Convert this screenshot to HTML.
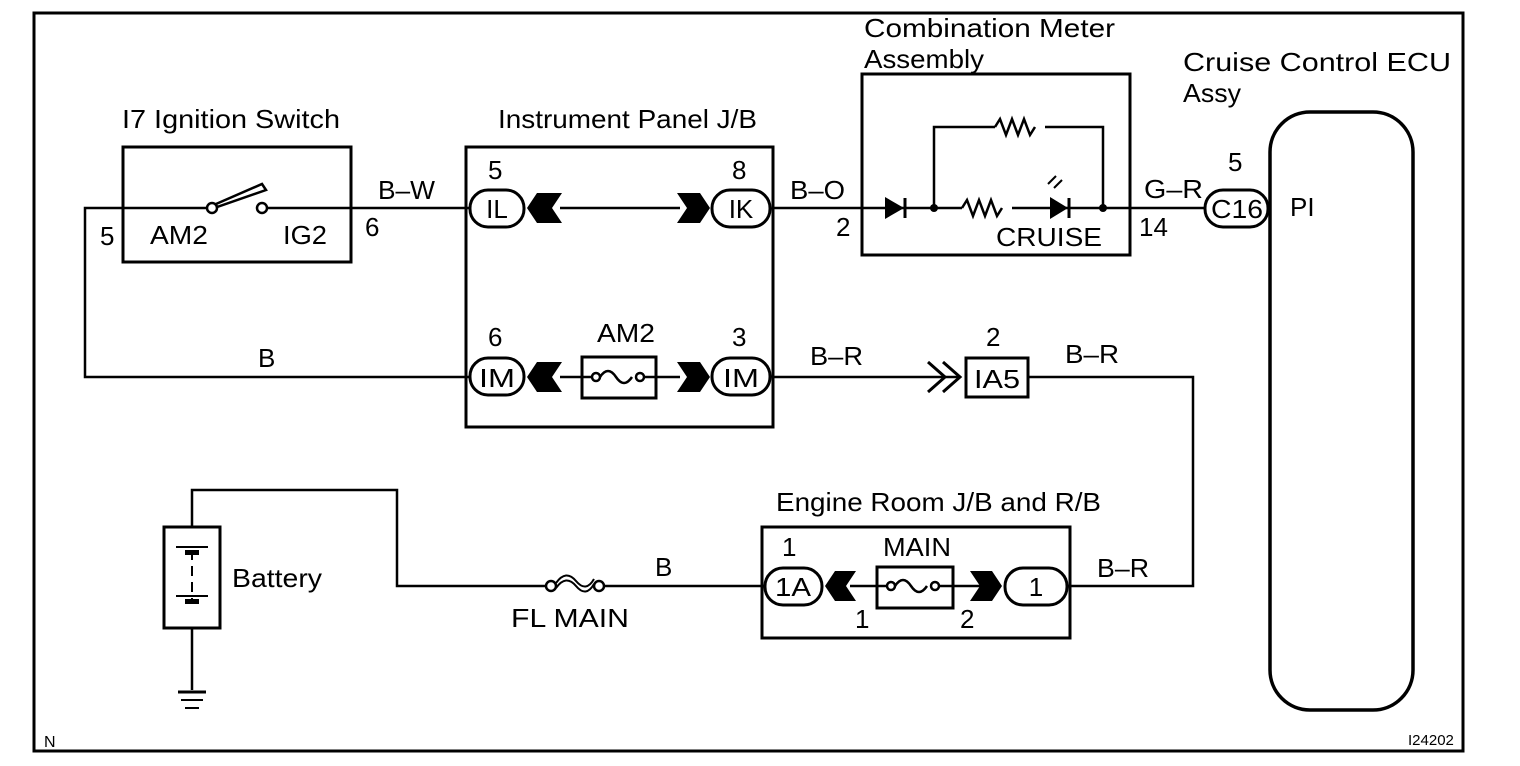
<!DOCTYPE html>
<html><head><style>
html,body{margin:0;padding:0;background:#fff;}
svg{display:block;}
text{font-family:"Liberation Sans",Arial,sans-serif;font-size:26px;fill:#000;}
.c{text-anchor:middle;}
</style></head><body>
<svg width="1520" height="766" viewBox="0 0 1520 766" xmlns="http://www.w3.org/2000/svg">
<g fill="none" stroke="#000" stroke-width="2.5">
<rect x="34" y="13" width="1429" height="738" stroke-width="3"/>
<rect x="123" y="147" width="228" height="115" stroke-width="3"/>
<polyline points="470,377 85,377 85,208 206,208"/>
<line x1="268" y1="208" x2="470" y2="208"/>
<circle cx="212" cy="208" r="5" fill="#fff"/>
<circle cx="262" cy="208" r="5" fill="#fff"/>
<polygon points="216,204 262,184 266,190 217,207" fill="#fff"/>
<rect x="466" y="147" width="307" height="280" stroke-width="3"/>
<line x1="560" y1="208" x2="680" y2="208"/>
<line x1="560" y1="377" x2="680" y2="377"/>
<rect x="470" y="190" width="54" height="37" rx="18" stroke-width="3" fill="#fff"/>
<rect x="712" y="190" width="58" height="37" rx="18" stroke-width="3" fill="#fff"/>
<rect x="470" y="358" width="54" height="37" rx="18" stroke-width="3" fill="#fff"/>
<rect x="712" y="358" width="58" height="37" rx="18" stroke-width="3" fill="#fff"/>
<rect x="582" y="357" width="74" height="41" stroke-width="3" fill="#fff"/>
<path d="M600,377 q8,-12 16,0 q8,12 16,0"/>
<circle cx="596" cy="377" r="4" fill="#fff"/><circle cx="640" cy="377" r="4" fill="#fff"/>
<line x1="582" y1="377" x2="592" y2="377"/><line x1="644" y1="377" x2="656" y2="377"/>
<line x1="773" y1="208" x2="1205" y2="208"/>
<line x1="773" y1="377" x2="960" y2="377"/>
<polyline points="928,362 945,377 928,392" stroke-width="3"/>
<polyline points="943,362 960,377 943,392" stroke-width="3"/>
<rect x="966" y="358" width="62" height="39" stroke-width="3"/>
<polyline points="1028,377 1193,377 1193,586 1068,586"/>
<rect x="862" y="74" width="268" height="181" stroke-width="3"/>
<polyline points="934,208 934,127 1103,127 1103,208"/>
<rect x="962" y="200" width="50" height="16" fill="#fff" stroke="none"/>
<path d="M962,208 l5,-8 l6,16 l6,-16 l6,16 l6,-16 l6,16 l5,-8"/>
<rect x="995" y="118" width="50" height="16" fill="#fff" stroke="none"/>
<path d="M995,127 l5,-8 l6,16 l6,-16 l6,16 l6,-16 l6,16 l5,-8"/>
<line x1="1069" y1="198" x2="1069" y2="218" stroke-width="3"/>
<line x1="905" y1="198" x2="905" y2="218" stroke-width="3"/>
<line x1="1048" y1="184" x2="1056" y2="176" stroke-width="2"/>
<line x1="1054" y1="188" x2="1062" y2="180" stroke-width="2"/>
<rect x="1270" y="112" width="143" height="598" rx="40" stroke-width="3.5"/>
<rect x="1205" y="190" width="63" height="37" rx="18" stroke-width="3" fill="#fff"/>
<polyline points="192,527 192,490 397,490 397,586 545,586"/>
<line x1="605" y1="586" x2="765" y2="586"/>
<circle cx="551" cy="586" r="5" fill="#fff"/><circle cx="599" cy="586" r="5" fill="#fff"/>
<path d="M556,588 q10,-14 20,-2 q10,12 18,-2" stroke-width="2"/>
<path d="M556,583 q10,-14 20,-2 q10,12 18,-2" stroke-width="2"/>
<rect x="164" y="527" width="56" height="101" stroke-width="3"/>
<line x1="192" y1="628" x2="192" y2="690"/>
<line x1="178" y1="692" x2="206" y2="692" stroke-width="3"/>
<line x1="181" y1="700" x2="203" y2="700" stroke-width="2"/>
<line x1="185" y1="708" x2="199" y2="708" stroke-width="2"/>
<line x1="176" y1="547" x2="208" y2="547" stroke-width="2"/>
<line x1="192" y1="550" x2="192" y2="600" stroke-dasharray="10,6" stroke-width="2"/>
<line x1="176" y1="596" x2="208" y2="596" stroke-width="2"/>
<rect x="762" y="527" width="308" height="111" stroke-width="3"/>
<line x1="850" y1="586" x2="990" y2="586"/>
<rect x="765" y="568" width="57" height="37" rx="18" stroke-width="3" fill="#fff"/>
<rect x="1005" y="568" width="62" height="37" rx="18" stroke-width="3" fill="#fff"/>
<rect x="877" y="567" width="76" height="41" stroke-width="3" fill="#fff"/>
<path d="M895,586 q8,-12 16,0 q8,12 16,0"/>
<circle cx="891" cy="586" r="4" fill="#fff"/><circle cx="935" cy="586" r="4" fill="#fff"/>
<line x1="877" y1="586" x2="887" y2="586"/><line x1="939" y1="586" x2="953" y2="586"/>
</g>
<g fill="#000" stroke="none">
<polygon points="527,208 537,193 562,193 552,208 562,223 537,223"/>
<polygon points="527,377 537,362 562,362 552,377 562,392 537,392"/>
<polygon points="710,208 700,193 677,193 687,208 677,223 700,223"/>
<polygon points="710,377 700,362 677,362 687,377 677,392 700,392"/>
<polygon points="825,586 835,571 856,571 846,586 856,601 835,601"/>
<polygon points="1002,586 992,571 970,571 980,586 970,601 992,601"/>
<polygon points="885,197 885,219 904,208"/>
<polygon points="1050,197 1050,219 1068,208"/>
<circle cx="934" cy="208" r="4"/><circle cx="1103" cy="208" r="4"/>
<rect x="185" y="550" width="14" height="5"/><rect x="185" y="599" width="14" height="5"/>
</g>
<text x="122" y="128" textLength="218" lengthAdjust="spacingAndGlyphs">I7 Ignition Switch</text>
<text x="150" y="244" textLength="58" lengthAdjust="spacingAndGlyphs">AM2</text>
<text x="283" y="244" textLength="44" lengthAdjust="spacingAndGlyphs">IG2</text>
<text x="100" y="245">5</text>
<text x="365" y="236">6</text>
<text x="378" y="199" textLength="57" lengthAdjust="spacingAndGlyphs">B–W</text>
<text x="258" y="367">B</text>
<text x="498" y="128" textLength="259" lengthAdjust="spacingAndGlyphs">Instrument Panel J/B</text>
<text x="488" y="179">5</text>
<text x="732" y="179">8</text>
<text class="c" x="497" y="218">IL</text>
<text class="c" x="741" y="218">IK</text>
<text x="488" y="346">6</text>
<text x="732" y="346">3</text>
<text class="c" x="497" y="387" textLength="36" lengthAdjust="spacingAndGlyphs">IM</text>
<text class="c" x="741" y="387" textLength="36" lengthAdjust="spacingAndGlyphs">IM</text>
<text x="597" y="342" textLength="58" lengthAdjust="spacingAndGlyphs">AM2</text>
<text x="790" y="199" textLength="55" lengthAdjust="spacingAndGlyphs">B–O</text>
<text x="836" y="236">2</text>
<text x="810" y="365" textLength="53" lengthAdjust="spacingAndGlyphs">B–R</text>
<text x="986" y="346">2</text>
<text class="c" x="997" y="388" textLength="46" lengthAdjust="spacingAndGlyphs">IA5</text>
<text x="1065" y="363" textLength="54" lengthAdjust="spacingAndGlyphs">B–R</text>
<text x="864" y="37" textLength="251" lengthAdjust="spacingAndGlyphs">Combination  Meter</text>
<text x="864" y="68" textLength="120" lengthAdjust="spacingAndGlyphs">Assembly</text>
<text x="996" y="246" textLength="106" lengthAdjust="spacingAndGlyphs">CRUISE</text>
<text x="1144" y="198" textLength="59" lengthAdjust="spacingAndGlyphs">G–R</text>
<text x="1139" y="236">14</text>
<text x="1228" y="171">5</text>
<text class="c" x="1237" y="218" textLength="52" lengthAdjust="spacingAndGlyphs">C16</text>
<text x="1290" y="216">PI</text>
<text x="1183" y="71" textLength="268" lengthAdjust="spacingAndGlyphs">Cruise  Control  ECU</text>
<text x="1183" y="102" textLength="58" lengthAdjust="spacingAndGlyphs">Assy</text>
<text x="232" y="587" textLength="90" lengthAdjust="spacingAndGlyphs">Battery</text>
<text x="655" y="576">B</text>
<text x="511" y="627" textLength="118" lengthAdjust="spacingAndGlyphs">FL MAIN</text>
<text x="776" y="511" textLength="325" lengthAdjust="spacingAndGlyphs">Engine Room J/B and R/B</text>
<text x="782" y="556">1</text>
<text x="883" y="556" textLength="68" lengthAdjust="spacingAndGlyphs">MAIN</text>
<text class="c" x="793" y="596" textLength="36" lengthAdjust="spacingAndGlyphs">1A</text>
<text class="c" x="1036" y="596">1</text>
<text x="855" y="628">1</text>
<text x="960" y="628">2</text>
<text x="1097" y="577" textLength="52" lengthAdjust="spacingAndGlyphs">B–R</text>
<text x="44" y="747" style="font-size:16px">N</text>
<text x="1408" y="745" style="font-size:15px">I24202</text>
</svg>
</body></html>
